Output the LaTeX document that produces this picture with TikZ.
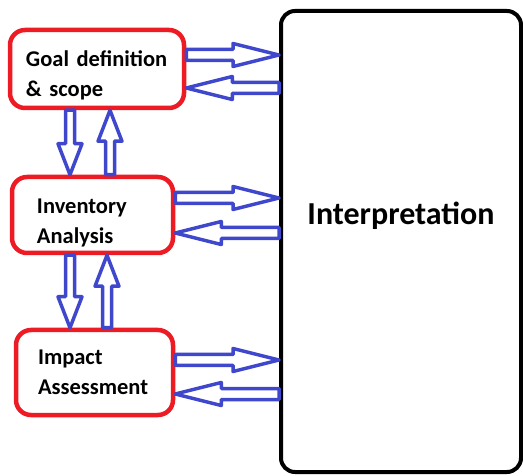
\documentclass[tikz,border=0pt]{standalone}
\usepackage{fontspec}
\setmainfont{Carlito}
\usepackage{tikz}
\usetikzlibrary{calc,positioning}
\definecolor{stagered}{RGB}{237,28,36}
\definecolor{flowblue}{RGB}{63,72,204}
\begin{document}
\begin{tikzpicture}[x=1pt,y=-1pt,
		stage/.style={draw=stagered,line width=4.5pt,rounded corners=15pt,align=left,inner ysep=0pt,font=\bfseries\fontsize{22.5}{30}\selectfont},
		hollow/.style n args={3}{draw=flowblue,line width=3.5pt,line join=round,to path={
			($(\tikztostart)!#1!90:(\tikztotarget)$)
			-- ($($(\tikztotarget)!#3!(\tikztostart)$)!#1!90:(\tikztotarget)$)
			-- ($($(\tikztotarget)!#3!(\tikztostart)$)!#2!90:(\tikztotarget)$)
			-- (\tikztotarget)
			-- ($($(\tikztotarget)!#3!(\tikztostart)$)!#2!-90:(\tikztotarget)$)
			-- ($($(\tikztotarget)!#3!(\tikztostart)$)!#1!-90:(\tikztotarget)$)
			-- ($(\tikztostart)!#1!-90:(\tikztotarget)$) -- cycle}},
		hflow/.style={hollow={5.5pt}{11.5pt}{46pt}},
		vflow/.style={hollow={4.5pt}{12pt}{31pt}}]
		\useasboundingbox (0,0) rectangle (523,476);
		\node(interp) at (401,241.5) [shape=rectangle,draw,line width=4pt,rounded corners=14pt,minimum width=240pt,minimum height=461pt,text height=23pt,text depth=56pt,font=\bfseries\fontsize{32}{38}\selectfont] {Interpretation};
		\node(goal) at (97,69) [stage,inner xsep=16pt,text width=142pt,minimum height=78pt] {\rule{0pt}{29pt}Goal definition\\\& scope};
		\node(inv) at (92.5,215) [stage,inner xsep=25pt,text width=111pt,minimum height=76pt] {\rule{0pt}{30pt}Inventory\\Analysis};
		\node(imp) at (94.5,372.5) [stage,inner xsep=22pt,text width=113pt,minimum height=85pt] {Impact\\Assessment};
		\draw[hflow] ([yshift=14pt]goal.east) to ([yshift=14pt]goal.east -| interp.west);
		\draw[hflow] ([yshift=-19pt]goal.east -| interp.west) to ([yshift=-19pt]goal.east);
		\draw[hflow] ([yshift=17pt]inv.east) to ([yshift=17pt]inv.east -| interp.west);
		\draw[hflow] ([yshift=-18pt]inv.east -| interp.west) to ([yshift=-18pt]inv.east);
		\draw[hflow] ([yshift=12.5pt]imp.east) to ([yshift=12.5pt]imp.east -| interp.west);
		\draw[hflow] ([yshift=-21.5pt]imp.east -| interp.west) to ([yshift=-21.5pt]imp.east);
		\draw[vflow] ([xshift=-27pt]goal.south) to ([xshift=-27pt]goal.south |- inv.north);
		\draw[vflow] ([xshift=13pt]goal.south |- inv.north) to ([xshift=13pt]goal.south);
		\draw[vflow] ([xshift=-22.5pt]inv.south) to ([xshift=-22.5pt]inv.south |- imp.north);
		\draw[vflow] ([xshift=14.5pt]inv.south |- imp.north) to ([xshift=14.5pt]inv.south);
\end{tikzpicture}
\end{document}
